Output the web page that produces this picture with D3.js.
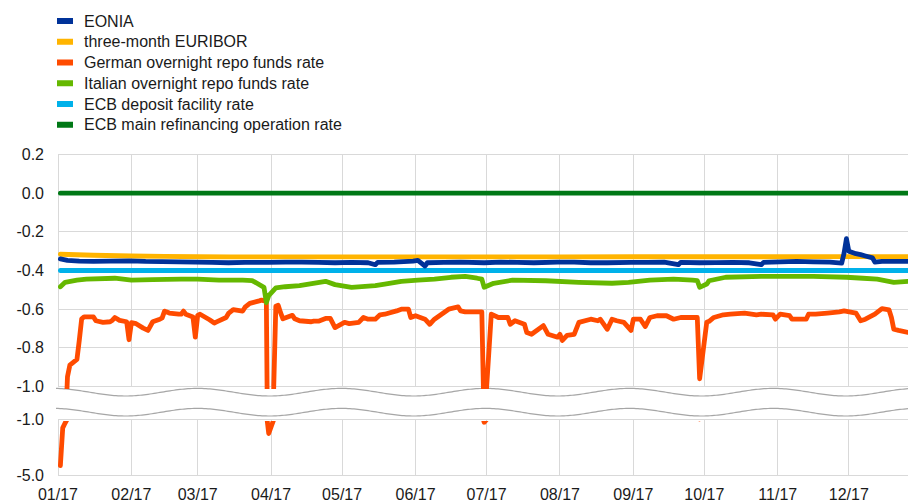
<!DOCTYPE html>
<html>
<head>
<meta charset="utf-8">
<script src="https://cdn.jsdelivr.net/npm/d3@7"></script>
<style>
  body { margin: 0; background: #fff; }
  svg { display: block; font-family: "Liberation Sans", Arial, sans-serif; }
  .grid line { stroke: #d9d9d9; stroke-width: 1; shape-rendering: crispEdges; }
  .tick-label { font-size: 16px; fill: #1a1a1a; }
  .legend text { font-size: 16px; fill: #1a1a1a; }
  .series { fill: none; stroke-width: 4.8; stroke-linejoin: round; stroke-linecap: round; }
  .wave { fill: none; stroke: #a6a6a6; stroke-width: 1.2; }
</style>
</head>
<body>
<div id="chart"></div>
<script>
// ---- data (daily rates, % p.a.) ----
var eonia = [
  ["2017-01-02", -0.340], ["2017-01-05", -0.348], ["2017-01-10", -0.352], ["2017-01-16", -0.353],
  ["2017-01-23", -0.352], ["2017-01-31", -0.350], ["2017-02-07", -0.353], ["2017-02-14", -0.354],
  ["2017-02-21", -0.355], ["2017-02-28", -0.357], ["2017-03-07", -0.358], ["2017-03-14", -0.360],
  ["2017-03-21", -0.358], ["2017-03-31", -0.358], ["2017-04-07", -0.357], ["2017-04-14", -0.357],
  ["2017-04-21", -0.358], ["2017-04-28", -0.360], ["2017-05-05", -0.358], ["2017-05-12", -0.360],
  ["2017-05-15", -0.370], ["2017-05-16", -0.358], ["2017-05-23", -0.357], ["2017-05-31", -0.352],
  ["2017-06-02", -0.348], ["2017-06-05", -0.377], ["2017-06-06", -0.360], ["2017-06-13", -0.358],
  ["2017-06-20", -0.357], ["2017-06-30", -0.360], ["2017-07-07", -0.357], ["2017-07-14", -0.358],
  ["2017-07-21", -0.360], ["2017-07-31", -0.357], ["2017-08-07", -0.357], ["2017-08-14", -0.360],
  ["2017-08-21", -0.360], ["2017-08-31", -0.358], ["2017-09-07", -0.358], ["2017-09-14", -0.357],
  ["2017-09-20", -0.370], ["2017-09-21", -0.358], ["2017-09-29", -0.360], ["2017-10-06", -0.359],
  ["2017-10-13", -0.358], ["2017-10-20", -0.360], ["2017-10-25", -0.370], ["2017-10-26", -0.358],
  ["2017-11-02", -0.355], ["2017-11-09", -0.353], ["2017-11-16", -0.355], ["2017-11-23", -0.357],
  ["2017-11-28", -0.362], ["2017-11-29", -0.310], ["2017-11-30", -0.235], ["2017-12-01", -0.300],
  ["2017-12-04", -0.313], ["2017-12-06", -0.318], ["2017-12-08", -0.325], ["2017-12-11", -0.335],
  ["2017-12-12", -0.357], ["2017-12-15", -0.353], ["2017-12-22", -0.353], ["2017-12-26", -0.353]
];

var euribor3m = [
  ["2017-01-02", -0.316], ["2017-01-16", -0.321], ["2017-02-01", -0.325], ["2017-02-15", -0.327],
  ["2017-03-01", -0.329], ["2017-03-15", -0.330], ["2017-04-03", -0.330], ["2017-05-02", -0.330],
  ["2017-06-01", -0.330], ["2017-07-03", -0.330], ["2017-08-01", -0.330], ["2017-09-01", -0.329],
  ["2017-10-02", -0.329], ["2017-11-01", -0.329], ["2017-12-01", -0.328], ["2017-12-26", -0.329]
];

var germanRepo = [
  ["2017-01-02", -4.30], ["2017-01-03", -1.60], ["2017-01-04", -1.25], ["2017-01-05", -0.95],
  ["2017-01-06", -0.89], ["2017-01-09", -0.86], ["2017-01-10", -0.76], ["2017-01-11", -0.65],
  ["2017-01-12", -0.64], ["2017-01-16", -0.64], ["2017-01-17", -0.66], ["2017-01-20", -0.668],
  ["2017-01-23", -0.665], ["2017-01-24", -0.657], ["2017-01-25", -0.643], ["2017-01-27", -0.658],
  ["2017-01-30", -0.665], ["2017-01-31", -0.758], ["2017-02-01", -0.67], ["2017-02-03", -0.675],
  ["2017-02-06", -0.698], ["2017-02-08", -0.71], ["2017-02-10", -0.665], ["2017-02-13", -0.652],
  ["2017-02-14", -0.645], ["2017-02-15", -0.61], ["2017-02-16", -0.615], ["2017-02-17", -0.62],
  ["2017-02-21", -0.626], ["2017-02-22", -0.626], ["2017-02-23", -0.61], ["2017-02-24", -0.626],
  ["2017-02-27", -0.64], ["2017-02-28", -0.745], ["2017-03-01", -0.632], ["2017-03-02", -0.626],
  ["2017-03-06", -0.655], ["2017-03-08", -0.672], ["2017-03-09", -0.666], ["2017-03-13", -0.643],
  ["2017-03-14", -0.622], ["2017-03-16", -0.602], ["2017-03-20", -0.61], ["2017-03-21", -0.59],
  ["2017-03-23", -0.57], ["2017-03-27", -0.557], ["2017-03-28", -0.553], ["2017-03-30", -0.56],
  ["2017-03-31", -2.00], ["2017-04-03", -0.585], ["2017-04-04", -0.58], ["2017-04-05", -0.618],
  ["2017-04-06", -0.65], ["2017-04-10", -0.632], ["2017-04-11", -0.65], ["2017-04-13", -0.66],
  ["2017-04-18", -0.665], ["2017-04-19", -0.662], ["2017-04-21", -0.662], ["2017-04-24", -0.648],
  ["2017-04-26", -0.648], ["2017-04-28", -0.695], ["2017-05-02", -0.668], ["2017-05-04", -0.675],
  ["2017-05-08", -0.668], ["2017-05-10", -0.643], ["2017-05-12", -0.652], ["2017-05-15", -0.652],
  ["2017-05-17", -0.629], ["2017-05-19", -0.626], ["2017-05-24", -0.609], ["2017-05-26", -0.60],
  ["2017-05-29", -0.60], ["2017-05-30", -0.643], ["2017-06-01", -0.634], ["2017-06-05", -0.652],
  ["2017-06-07", -0.678], ["2017-06-09", -0.652], ["2017-06-12", -0.626], ["2017-06-15", -0.60],
  ["2017-06-19", -0.588], ["2017-06-20", -0.609], ["2017-06-22", -0.614], ["2017-06-26", -0.614],
  ["2017-06-29", -0.614], ["2017-06-30", -1.20], ["2017-07-03", -0.626], ["2017-07-06", -0.643],
  ["2017-07-10", -0.643], ["2017-07-11", -0.678], ["2017-07-13", -0.66], ["2017-07-17", -0.678],
  ["2017-07-18", -0.721], ["2017-07-20", -0.73], ["2017-07-25", -0.685], ["2017-07-27", -0.73],
  ["2017-07-31", -0.745], ["2017-08-01", -0.73], ["2017-08-02", -0.762], ["2017-08-04", -0.735],
  ["2017-08-07", -0.73], ["2017-08-09", -0.668], ["2017-08-14", -0.652], ["2017-08-17", -0.66],
  ["2017-08-18", -0.652], ["2017-08-21", -0.704], ["2017-08-23", -0.652], ["2017-08-25", -0.66],
  ["2017-08-28", -0.668], ["2017-08-31", -0.71], ["2017-09-01", -0.652], ["2017-09-04", -0.652],
  ["2017-09-06", -0.69], ["2017-09-08", -0.643], ["2017-09-11", -0.634], ["2017-09-15", -0.634],
  ["2017-09-18", -0.652], ["2017-09-21", -0.643], ["2017-09-28", -0.643], ["2017-09-29", -0.96],
  ["2017-10-02", -0.668], ["2017-10-03", -0.663], ["2017-10-05", -0.643], ["2017-10-09", -0.629],
  ["2017-10-12", -0.626], ["2017-10-18", -0.62], ["2017-10-23", -0.629], ["2017-10-25", -0.626],
  ["2017-10-30", -0.629], ["2017-10-31", -0.652], ["2017-11-02", -0.626], ["2017-11-06", -0.634],
  ["2017-11-07", -0.652], ["2017-11-13", -0.652], ["2017-11-14", -0.626], ["2017-11-17", -0.626],
  ["2017-11-22", -0.62], ["2017-11-27", -0.614], ["2017-11-29", -0.609], ["2017-12-04", -0.62],
  ["2017-12-06", -0.66], ["2017-12-08", -0.652], ["2017-12-12", -0.626], ["2017-12-15", -0.597],
  ["2017-12-18", -0.604], ["2017-12-19", -0.643], ["2017-12-20", -0.704], ["2017-12-22", -0.71],
  ["2017-12-26", -0.72]
];

var italianRepo = [
  ["2017-01-02", -0.484], ["2017-01-04", -0.461], ["2017-01-09", -0.450], ["2017-01-13", -0.445],
  ["2017-01-25", -0.440], ["2017-02-01", -0.450], ["2017-02-10", -0.447], ["2017-02-22", -0.445],
  ["2017-03-01", -0.445], ["2017-03-10", -0.450], ["2017-03-20", -0.450], ["2017-03-24", -0.452],
  ["2017-03-29", -0.487], ["2017-03-30", -0.566], ["2017-03-31", -0.530], ["2017-04-03", -0.490],
  ["2017-04-07", -0.484], ["2017-04-13", -0.478], ["2017-04-24", -0.456], ["2017-04-28", -0.473],
  ["2017-05-05", -0.487], ["2017-05-15", -0.478], ["2017-05-19", -0.470], ["2017-05-26", -0.456],
  ["2017-06-02", -0.450], ["2017-06-09", -0.445], ["2017-06-16", -0.435], ["2017-06-22", -0.430],
  ["2017-06-27", -0.440], ["2017-06-29", -0.445], ["2017-06-30", -0.487], ["2017-07-04", -0.466],
  ["2017-07-12", -0.450], ["2017-07-26", -0.453], ["2017-08-09", -0.461], ["2017-08-23", -0.466],
  ["2017-08-30", -0.461], ["2017-09-08", -0.450], ["2017-09-18", -0.445], ["2017-09-26", -0.450],
  ["2017-09-28", -0.452], ["2017-09-29", -0.487], ["2017-10-02", -0.470], ["2017-10-03", -0.453],
  ["2017-10-10", -0.435], ["2017-10-25", -0.430], ["2017-11-16", -0.430], ["2017-11-30", -0.435],
  ["2017-12-07", -0.440], ["2017-12-13", -0.445], ["2017-12-20", -0.461], ["2017-12-26", -0.456]
];

var depositRate = [["2017-01-02", -0.40], ["2017-12-26", -0.40]];
var mroRate = [["2017-01-02", 0.00], ["2017-12-26", 0.00]];

var seriesNames = ["EONIA", "three-month EURIBOR", "German overnight repo funds rate",
  "Italian overnight repo funds rate", "ECB deposit facility rate", "ECB main refinancing operation rate"];
var seriesColors = ["#003299", "#ffb400", "#ff4b00", "#65b800", "#00b1ea", "#007816"];
var seriesData = [eonia, euribor3m, germanRepo, italianRepo, depositRate, mroRate];

var monthTicks = ["2017-01-01", "2017-02-01", "2017-03-01", "2017-04-01", "2017-05-01", "2017-06-01",
  "2017-07-01", "2017-08-01", "2017-09-01", "2017-10-01", "2017-11-01", "2017-12-01"];
var monthLabels = ["01/17", "02/17", "03/17", "04/17", "05/17", "06/17",
  "07/17", "08/17", "09/17", "10/17", "11/17", "12/17"];
var upperTicks = [0.2, 0.0, -0.2, -0.4, -0.6, -0.8, -1.0];
var lowerTicks = [-1.0, -5.0];
var lowerTickLabels = ["-1.0", "-5.0"];

// ---- layout ----
var width = 908, height = 502;
var left = 58, right = 908;
var upperTop = 154.5, upperBottom = 386.5;
var lowerTop = 419.5, lowerBottom = 475.5;

var parseDate = d3.timeParse("%Y-%m-%d");

var x = d3.scaleTime()
  .domain([parseDate("2017-01-01"), parseDate("2017-12-26")])
  .range([left, right]);
var yUpper = d3.scaleLinear().domain([-1.0, 0.2]).range([upperBottom, upperTop]);
var yLower = d3.scaleLinear().domain([-5.0, -1.0]).range([lowerBottom, lowerTop]);

var svg = d3.select("#chart").append("svg")
  .attr("width", width)
  .attr("height", height);

var defs = svg.append("defs");
defs.append("clipPath").attr("id", "clipUpper").append("rect")
  .attr("x", left).attr("y", upperTop - 10)
  .attr("width", right - left + 5).attr("height", 389 - (upperTop - 10));
defs.append("clipPath").attr("id", "clipLower").append("rect")
  .attr("x", left).attr("y", 421)
  .attr("width", right - left + 5).attr("height", lowerBottom + 10 - 421);

// grid
var grid = svg.append("g").attr("class", "grid");
grid.selectAll("line.hu").data(upperTicks).enter().append("line")
  .attr("x1", left).attr("x2", right)
  .attr("y1", function(d) { return yUpper(d); })
  .attr("y2", function(d) { return yUpper(d); });
grid.selectAll("line.hl").data(lowerTicks).enter().append("line")
  .attr("x1", left).attr("x2", right)
  .attr("y1", function(d) { return yLower(d); })
  .attr("y2", function(d) { return yLower(d); });
grid.selectAll("line.vu").data(monthTicks).enter().append("line")
  .attr("x1", function(d) { return x(parseDate(d)); })
  .attr("x2", function(d) { return x(parseDate(d)); })
  .attr("y1", upperTop).attr("y2", upperBottom);
grid.selectAll("line.vl").data(monthTicks).enter().append("line")
  .attr("x1", function(d) { return x(parseDate(d)); })
  .attr("x2", function(d) { return x(parseDate(d)); })
  .attr("y1", lowerTop).attr("y2", lowerBottom);

// axis break waves
var wavePeriod = 144, waveAmp = 3.8, waveCrest = 197.5;
var waveXs = d3.range(left - 2, right + 1, 2);
function wave(center) {
  return d3.line()
    .x(function(d) { return d; })
    .y(function(d) { return center - waveAmp * Math.cos(2 * Math.PI * (d - waveCrest) / wavePeriod); })
    (waveXs);
}
svg.append("path").attr("class", "wave").attr("d", wave(392.2));
svg.append("path").attr("class", "wave").attr("d", wave(412.2));

// series: policy rates underneath, market rates on top
var drawOrder = [4, 5, 2, 3, 1, 0];
var lineUpper = d3.line()
  .x(function(d) { return x(parseDate(d[0])); })
  .y(function(d) { return yUpper(d[1]); });
var lineLower = d3.line()
  .x(function(d) { return x(parseDate(d[0])); })
  .y(function(d) { return yLower(d[1]); });

var gUpper = svg.append("g").attr("clip-path", "url(#clipUpper)");
var gLower = svg.append("g").attr("clip-path", "url(#clipLower)");
drawOrder.forEach(function(i) {
  gUpper.append("path").attr("class", "series")
    .attr("stroke", seriesColors[i])
    .attr("d", lineUpper(seriesData[i]));
  gLower.append("path").attr("class", "series")
    .attr("stroke", seriesColors[i])
    .attr("d", lineLower(seriesData[i]));
});

// y labels
svg.selectAll("text.yu").data(upperTicks).enter().append("text")
  .attr("class", "tick-label")
  .attr("x", 44).attr("y", function(d) { return yUpper(d); })
  .attr("dy", "0.35em")
  .attr("text-anchor", "end")
  .text(function(d) { return d3.format(".1f")(d).replace("−", "-"); });
svg.selectAll("text.yl").data(lowerTicks).enter().append("text")
  .attr("class", "tick-label")
  .attr("x", 44).attr("y", function(d) { return yLower(d); })
  .attr("dy", "0.35em")
  .attr("text-anchor", "end")
  .text(function(d, i) { return lowerTickLabels[i]; });

// x labels
svg.selectAll("text.xl").data(monthTicks).enter().append("text")
  .attr("class", "tick-label")
  .attr("x", function(d) { return x(parseDate(d)); })
  .attr("y", 500)
  .attr("text-anchor", "middle")
  .text(function(d, i) { return monthLabels[i]; });

// legend
var legend = svg.append("g").attr("class", "legend");
var rows = legend.selectAll("g").data(seriesNames).enter().append("g")
  .attr("transform", function(d, i) { return "translate(57," + (21 + i * 20.75) + ")"; });
rows.append("rect")
  .attr("x", 0).attr("y", -3).attr("width", 16).attr("height", 6)
  .attr("fill", function(d, i) { return seriesColors[i]; });
rows.append("text")
  .attr("x", 27).attr("dy", "0.35em")
  .text(function(d) { return d; });
</script>
</body>
</html>
